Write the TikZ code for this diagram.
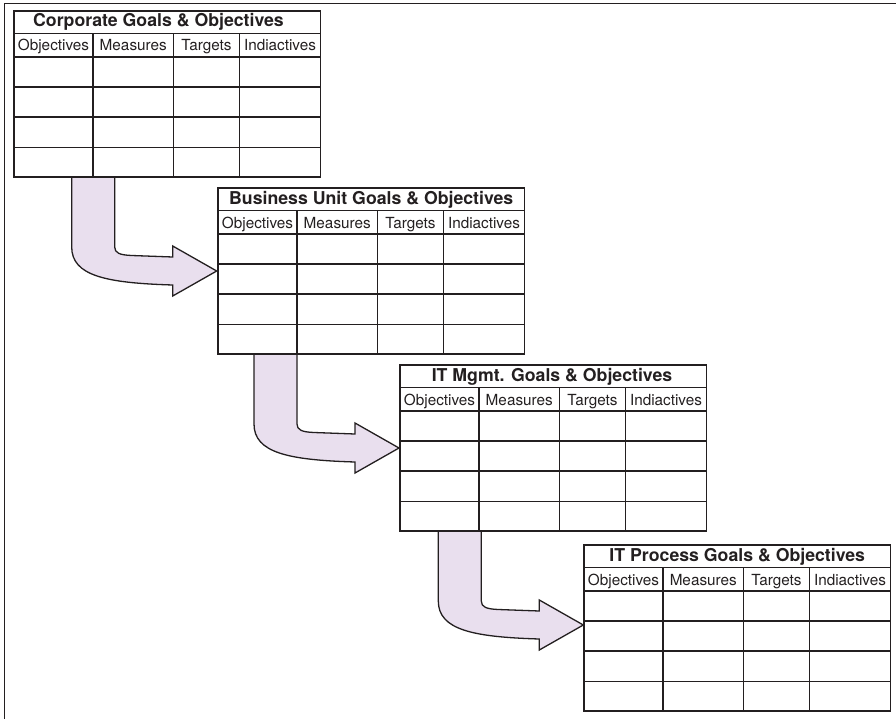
\documentclass[tikz,border=0pt]{standalone}
\usepackage{fontspec}
\setmainfont{TeX Gyre Heros}
\definecolor{ink}{HTML}{231F20}
\definecolor{lav}{HTML}{E9DFEE}
\tikzset{
  tblline/.style={draw=ink, line width=1.8bp},
  frameline/.style={draw=ink, line width=1.8bp},
  titletext/.style={anchor=base, inner sep=0pt, text=ink, font=\fontsize{17.7bp}{20bp}\selectfont\bfseries},
  headtext/.style={anchor=base, inner sep=0pt, text=ink, font=\fontsize{15.3bp}{18bp}\selectfont},
  arrowfill/.style={fill=lav},
  arrowline/.style={draw=ink, line width=1.3bp, line join=miter},
}
\newcommand\goaltable[5]{%
  \begin{scope}[shift={(#2,#3)}]
    \draw[tblline] (0,0) rectangle (306.5,166);
    \foreach \yy in {22.5,46,76,106,136.5} {\draw[tblline] (0,\yy) -- (306.5,\yy);}
    \foreach \xx in {79,159.5,225.5} {\draw[tblline] (\xx,22.5) -- (\xx,166);}
    \node[titletext] (#1-title) at (#5,16) {#4};
    \node[headtext] (#1-obj) at (39.5,40) {Objectives};
    \node[headtext] (#1-mea) at (119.25,40) {Measures};
    \node[headtext] (#1-tar) at (192.5,40) {Targets};
    \node[headtext] (#1-ind) at (266,40) {Indiactives};
  \end{scope}}
\newcommand\bendarrow[2]{%
  \begin{scope}[shift={(#1,#2)}]
    \fill[arrowfill] (0,0) -- (0,70) .. controls (0,99) and (35,106) .. (101,108) -- (101,119) -- (145,94) -- (101,69) -- (101,80) -- (60,78.5) .. controls (48,78) and (43,76) .. (43,70) -- (43,0) -- cycle;
    \draw[arrowline] (0,0) -- (0,70) .. controls (0,99) and (35,106) .. (101,108) -- (101,119) -- (145,94) -- (101,69) -- (101,80) -- (60,78.5) .. controls (48,78) and (43,76) .. (43,70) -- (43,0);
  \end{scope}}
\begin{document}
\begin{tikzpicture}[x=1bp,y=-1bp]
  \useasboundingbox (0,0) rectangle (896,719);
  \draw[frameline] (4.5,725) -- (4.5,3.5) -- (900,3.5);
  \bendarrow{71.7}{177}
  \bendarrow{254}{354}
  \bendarrow{438.3}{531}
  \goaltable{t1}{14}{11}{Corporate Goals \& Objectives}{144.5}
  \goaltable{t2}{218}{188}{Business Unit Goals \& Objectives}{153.25}
  \goaltable{t3}{400}{365}{IT Mgmt. Goals \& Objectives}{152}
  \goaltable{t4}{584}{545}{IT Process Goals \& Objectives}{153.25}
\end{tikzpicture}
\end{document}
